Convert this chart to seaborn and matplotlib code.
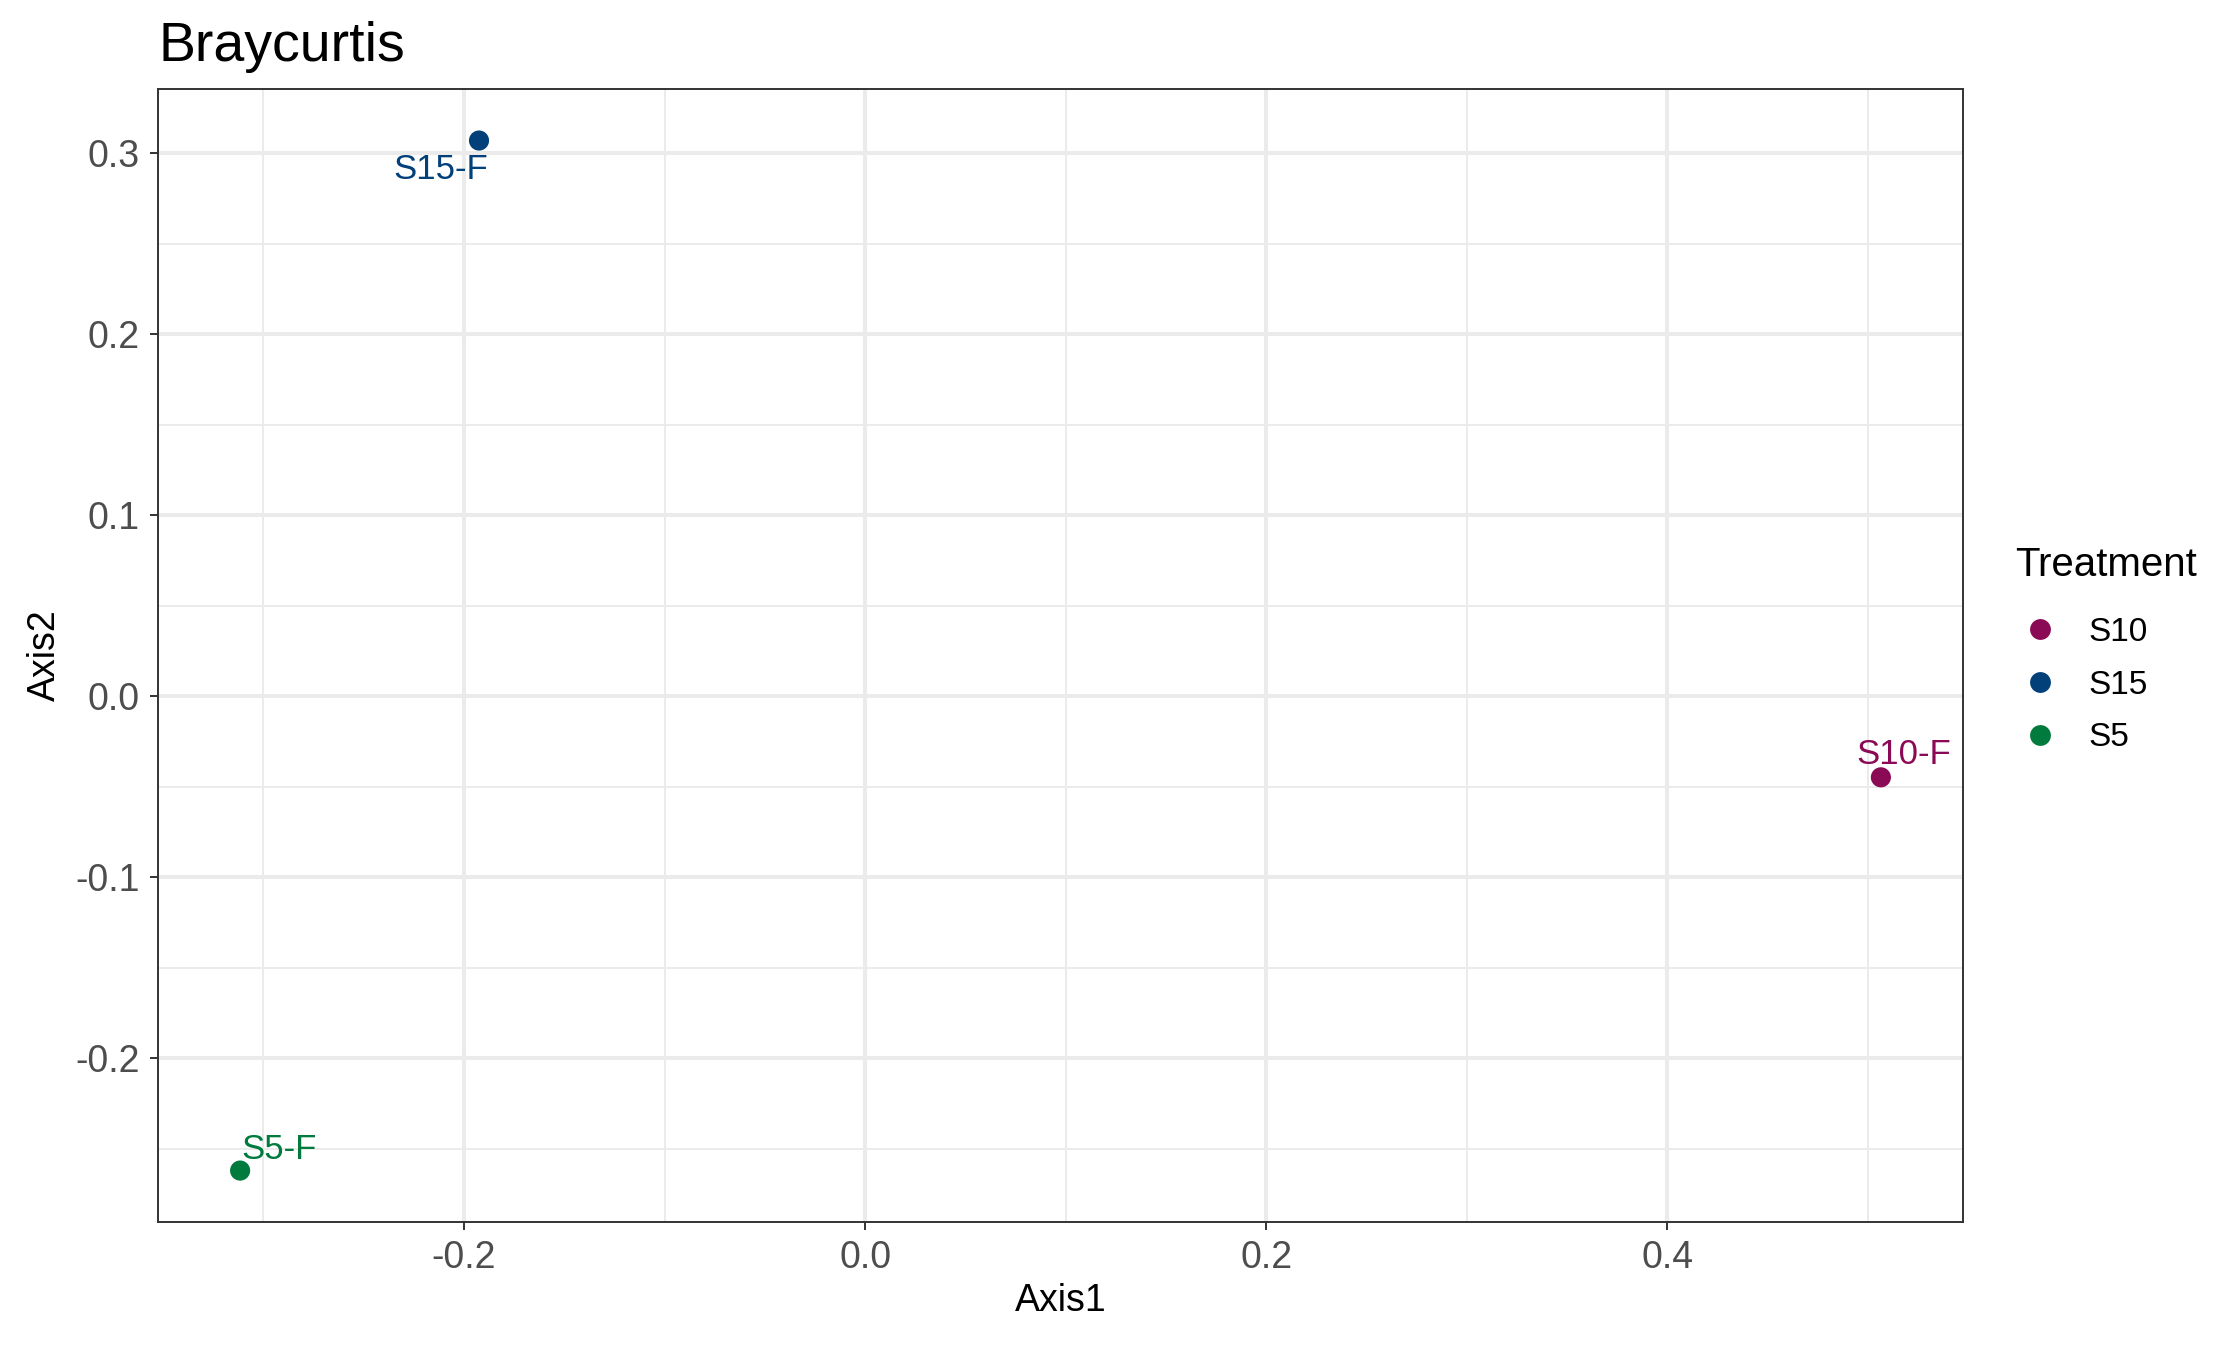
import numpy as np
import pandas as pd
import matplotlib
matplotlib.use("Agg")
import matplotlib.pyplot as plt
import seaborn as sns
from matplotlib.lines import Line2D

# PCoA coordinates
samples = ["S10-F", "S15-F", "S5-F"]
treatment = ["S10", "S15", "S5"]
axis1 = [0.5064, -0.1925, -0.3116]
axis2 = [-0.0447, 0.307, -0.2619]

palette = {"S10": "#8B0A55", "S15": "#02407A", "S5": "#007A3D"}
# label offsets (points) from each point, baseline anchored
label_offsets = {"S10-F": (16.6, 9.4), "S15-F": (-27.4, -27.4), "S5-F": (27.7, 8.6)}

df = pd.DataFrame({"Sample": samples, "Treatment": treatment,
                   "Axis1": axis1, "Axis2": axis2})

sns.set_theme(style="white")
plt.rcParams["font.family"] = ["Liberation Sans", "DejaVu Sans"]
plt.rcParams["text.color"] = "black"
plt.rcParams["axes.labelcolor"] = "black"

fig = plt.figure(figsize=(22.17, 13.45), dpi=100)
ax = fig.add_axes([0.0713, 0.0914, 0.8854 - 0.0713, 0.9338 - 0.0914])

sns.scatterplot(data=df, x="Axis1", y="Axis2", hue="Treatment", palette=palette,
                s=210, edgecolor="none", ax=ax, legend=False, zorder=3)

for _, r in df.iterrows():
    dx, dy = label_offsets[r["Sample"]]
    ax.annotate(r["Sample"], (r["Axis1"], r["Axis2"]), xytext=(dx, dy),
                textcoords="offset points", ha="center", va="baseline",
                fontsize=25, color=palette[r["Treatment"]], zorder=4)

# ggplot-like expansion (5%)
xr = max(axis1) - min(axis1)
yr = max(axis2) - min(axis2)
ax.set_xlim(min(axis1) - 0.05 * xr, max(axis1) + 0.05 * xr)
ax.set_ylim(min(axis2) - 0.05 * yr, max(axis2) + 0.05 * yr)

ax.set_xticks([-0.2, 0.0, 0.2, 0.4])
ax.set_xticks([-0.3, -0.1, 0.1, 0.3, 0.5], minor=True)
ax.set_yticks([-0.2, -0.1, 0.0, 0.1, 0.2, 0.3])
ax.set_yticks([-0.25, -0.15, -0.05, 0.05, 0.15, 0.25], minor=True)
ax.set_xticklabels(["-0.2", "0.0", "0.2", "0.4"])
ax.set_yticklabels(["-0.2", "-0.1", "0.0", "0.1", "0.2", "0.3"])

ax.grid(True, which="major", color="#EBEBEB", lw=2.9, zorder=0)
ax.grid(True, which="minor", color="#EBEBEB", lw=1.4, zorder=0)
ax.set_axisbelow(True)
for sp in ax.spines.values():
    sp.set_color("#333333")
    sp.set_linewidth(1.4)

ax.tick_params(axis="both", which="major", length=6, width=1.4, color="#333333",
               labelsize=27, labelcolor="#4D4D4D", pad=7, bottom=True, left=True)
ax.tick_params(axis="both", which="minor", length=0)

ax.set_xlabel("Axis1", fontsize=27, color="black", labelpad=5)
ax.set_ylabel("Axis2", fontsize=27, color="black", labelpad=9)
ax.set_title("Braycurtis", fontsize=40, loc="left", pad=20, color="black")

handles = [Line2D([0], [0], marker="o", ls="none", markersize=15,
                  markerfacecolor=palette[t], markeredgecolor="none", label=t)
           for t in ["S10", "S15", "S5"]]
leg = ax.legend(handles=handles, title="Treatment", loc="center left",
                bbox_to_anchor=(1.0216, 0.505), frameon=False, fontsize=24,
                title_fontsize=29, handlelength=1.5, handletextpad=0.7,
                labelspacing=0.65, borderaxespad=0, borderpad=0.4)
leg._legend_box.align = "left"
leg._legend_box.sep += 8

fig.savefig("out.png", dpi=100)
